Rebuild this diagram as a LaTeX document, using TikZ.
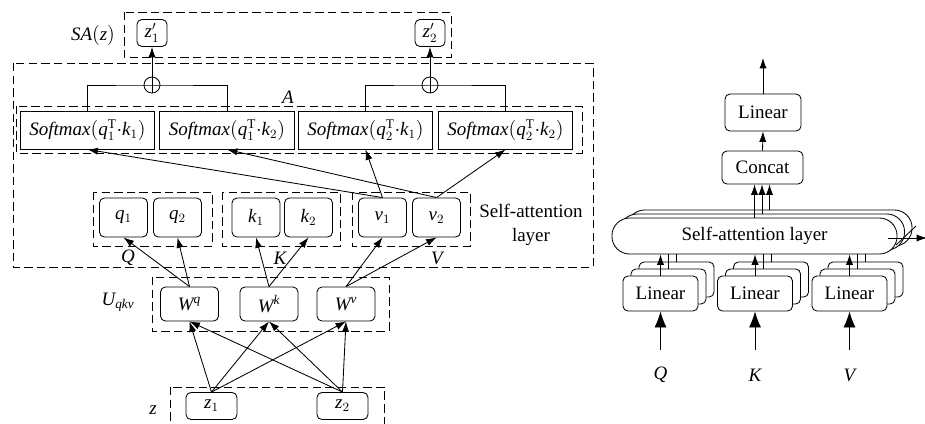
\documentclass[tikz,border=0pt]{standalone}
\usepackage{fontspec}
\setmainfont{Liberation Serif}
\usetikzlibrary{arrows.meta}
\usetikzlibrary{positioning}

\tikzset{
  blk/.style={draw,rounded corners=3.5pt,line width=0.6pt,fill=white,inner sep=0pt},
  smbox/.style={draw,line width=0.7pt,inner sep=0pt,minimum width=3.35cm,minimum height=0.95cm},
  qkvbox/.style={blk,minimum width=1.2cm,minimum height=0.975cm},
  wbox/.style={blk,minimum width=1.45cm,minimum height=0.85cm},
  zbox/.style={blk,minimum width=1.275cm,minimum height=0.675cm},
  linbox/.style={blk,minimum width=1.875cm,minimum height=0.875cm},
  salayer/.style={blk,rounded corners=0.44cm,minimum width=7.125cm,minimum height=0.9cm},
  grp/.style={draw,dash pattern=on 6pt off 3pt,line width=0.6pt},
  arr/.style={-{Latex[length=2.6mm,width=1.8mm]},line width=0.6pt},
  bigarr/.style={-{Latex[length=4mm,width=3mm]},line width=0.6pt},
  lbl/.style={inner sep=0pt},
}

\begin{document}
\begin{tikzpicture}[x=0.025cm,y=-0.025cm,font=\fontsize{13.5}{16}\selectfont]
\useasboundingbox (0,0) rectangle (925,423);

% output z'
\draw[grp] (124,12) rectangle (451,57);
\node[lbl] (salbl) at (93,35) {$\mathit{SA}(\mathit{z})$};
\node[blk,minimum width=0.75cm,minimum height=0.675cm] (zo1) at (152,33) {$\mathit{z}'_1$};
\node[blk,minimum width=0.75cm,minimum height=0.675cm] (zo2) at (430,33) {$\mathit{z}'_2$};

% attention block A
\draw[grp] (13,63) rectangle (593,267);
\node[lbl] (albl) at (288,97) {$\mathit{A}$};
\draw[grp] (16,106) rectangle (582,153);
\node[smbox] (sm1) at (87.5,130) {$\mathit{Softmax}(\mathit{q}^{\mathrm{T}}_1{\cdot}\mathit{k}_1)$};
\node[smbox] (sm2) at (227,130) {$\mathit{Softmax}(\mathit{q}^{\mathrm{T}}_1{\cdot}\mathit{k}_2)$};
\node[smbox] (sm3) at (365.5,130) {$\mathit{Softmax}(\mathit{q}^{\mathrm{T}}_2{\cdot}\mathit{k}_1)$};
\node[smbox] (sm4) at (505.5,130) {$\mathit{Softmax}(\mathit{q}^{\mathrm{T}}_2{\cdot}\mathit{k}_2)$};

\node[draw,circle,minimum size=0.4cm,inner sep=0pt,line width=0.6pt] (sum1) at (152,85) {};
\node[draw,circle,minimum size=0.4cm,inner sep=0pt,line width=0.6pt] (sum2) at (430,85) {};
\draw[line width=0.6pt] (sm1.north) |- (sum1.west) -- (sum1.east) -| (sm2.north) (sum1.north) -- (sum1.south);
\draw[line width=0.6pt] (sm3.north) |- (sum2.west) -- (sum2.east) -| (sm4.north) (sum2.north) -- (sum2.south);
\draw[arr] (sum1.north) -- (zo1.south);
\draw[arr] (sum2.north) -- (zo2.south);

% q, k, v
\draw[grp] (93,192) rectangle (212,246);
\draw[grp] (222,192) rectangle (340,246);
\draw[grp] (352,192) rectangle (470,246);
\node[qkvbox] (q1) at (123.5,217.5) {$\mathit{q}_1$};
\node[qkvbox] (q2) at (177.5,217.5) {$\mathit{q}_2$};
\node[qkvbox] (k1) at (256,217.5) {$\mathit{k}_1$};
\node[qkvbox] (k2) at (308.5,217.5) {$\mathit{k}_2$};
\node[qkvbox] (v1) at (382.5,217.5) {$\mathit{v}_1$};
\node[qkvbox] (v2) at (436.5,217.5) {$\mathit{v}_2$};
\node[lbl] (qlbl) at (128,258) {$\mathit{Q}$};
\node[lbl] (klbl) at (280,258) {$\mathit{K}$};
\node[lbl] (vlbl) at (437,258) {$\mathit{V}$};
\node[lbl,align=center] (layerlbl) at (531,225) {Self-attention\\[1pt]layer};

\draw[arr] (v1.north) -- (sm1.south);
\draw[arr] (v1.north) -- (sm3.south);
\draw[arr] (v2.north) -- (sm2.south);
\draw[arr] (v2.north) -- (sm4.south);

% projections
\draw[grp] (152,277) rectangle (389,331);
\node[lbl] (ulbl) at (118,302) {$\mathit{U}_{\mathit{qkv}}$};
\node[wbox] (wq) at (189.5,304) {$\mathit{W}^{\mathit{q}}$};
\node[wbox] (wk) at (269,304) {$\mathit{W}^{\mathit{k}}$};
\node[wbox] (wv) at (346,304) {$\mathit{W}^{\mathit{v}}$};
\draw[arr] (wq.north) -- (q1.south);
\draw[arr] (wq.north) -- (q2.south);
\draw[arr] (wk.north) -- (k1.south);
\draw[arr] (wk.north) -- (k2.south);
\draw[arr] (wv.north) -- (v1.south);
\draw[arr] (wv.north) -- (v2.south);

% input z
\draw[grp] (170,387) rectangle (384,432);
\node[lbl] (zlbl) at (153,410) {$\mathit{z}$};
\node[zbox] (z1) at (211.5,406) {$\mathit{z}_1$};
\node[zbox] (z2) at (342.5,406) {$\mathit{z}_2$};
\foreach \w in {wq,wk,wv} {
  \draw[arr] (z1.north) -- (\w.south);
  \draw[arr] (z2.north) -- (\w.south);
}

% right: multi-head view
\node[salayer] (sal3) at (769.5,228) {};
\node[salayer] (sal2) at (762,232) {};
\node[salayer] (sal1) at (754.5,236) {Self-attention layer};
\node[blk,minimum width=2.025cm,minimum height=0.825cm] (cc) at (762.5,167.5) {Concat};
\node[blk,minimum width=1.9cm,minimum height=0.925cm] (lin) at (763,112.5) {Linear};
\coordinate (out) at (763,58);
\draw[arr] (lin.north) -- (out);
\draw[arr] (cc.north) -- (lin.south);
\foreach \s in {sal1,sal2,sal3}
  \draw[arr] (\s.north) -- (\s.north |- cc.south);
\coordinate (saout) at (927,238);
\draw[arr] (888,238) -- (saout);
\draw[line width=0.6pt] (896,245) -- (916,226);

\foreach \n/\x/\l in {1/660.5/Q,2/755/K,3/849.5/V} {
  \node[linbox] (linc\n) at (\x+16,279.5) {};
  \node[linbox] (linb\n) at (\x+8,286.5) {};
  \node[linbox] (lina\n) at (\x,293.5) {Linear};
  \draw[arr] (lina\n.north) -- (lina\n.north |- sal1.south);
  \draw[line width=0.6pt] (linb\n.north) -- (linb\n.north |- sal1.south);
  \draw[line width=0.6pt] (linc\n.north) -- (linc\n.north |- sal1.south);
  \node[lbl] (in\n) at (\x,375) {$\mathit{\l}$};
  \coordinate (inp\n) at (\x,350);
  \draw[bigarr] (inp\n) -- (lina\n.south);
}

\end{tikzpicture}
\end{document}
